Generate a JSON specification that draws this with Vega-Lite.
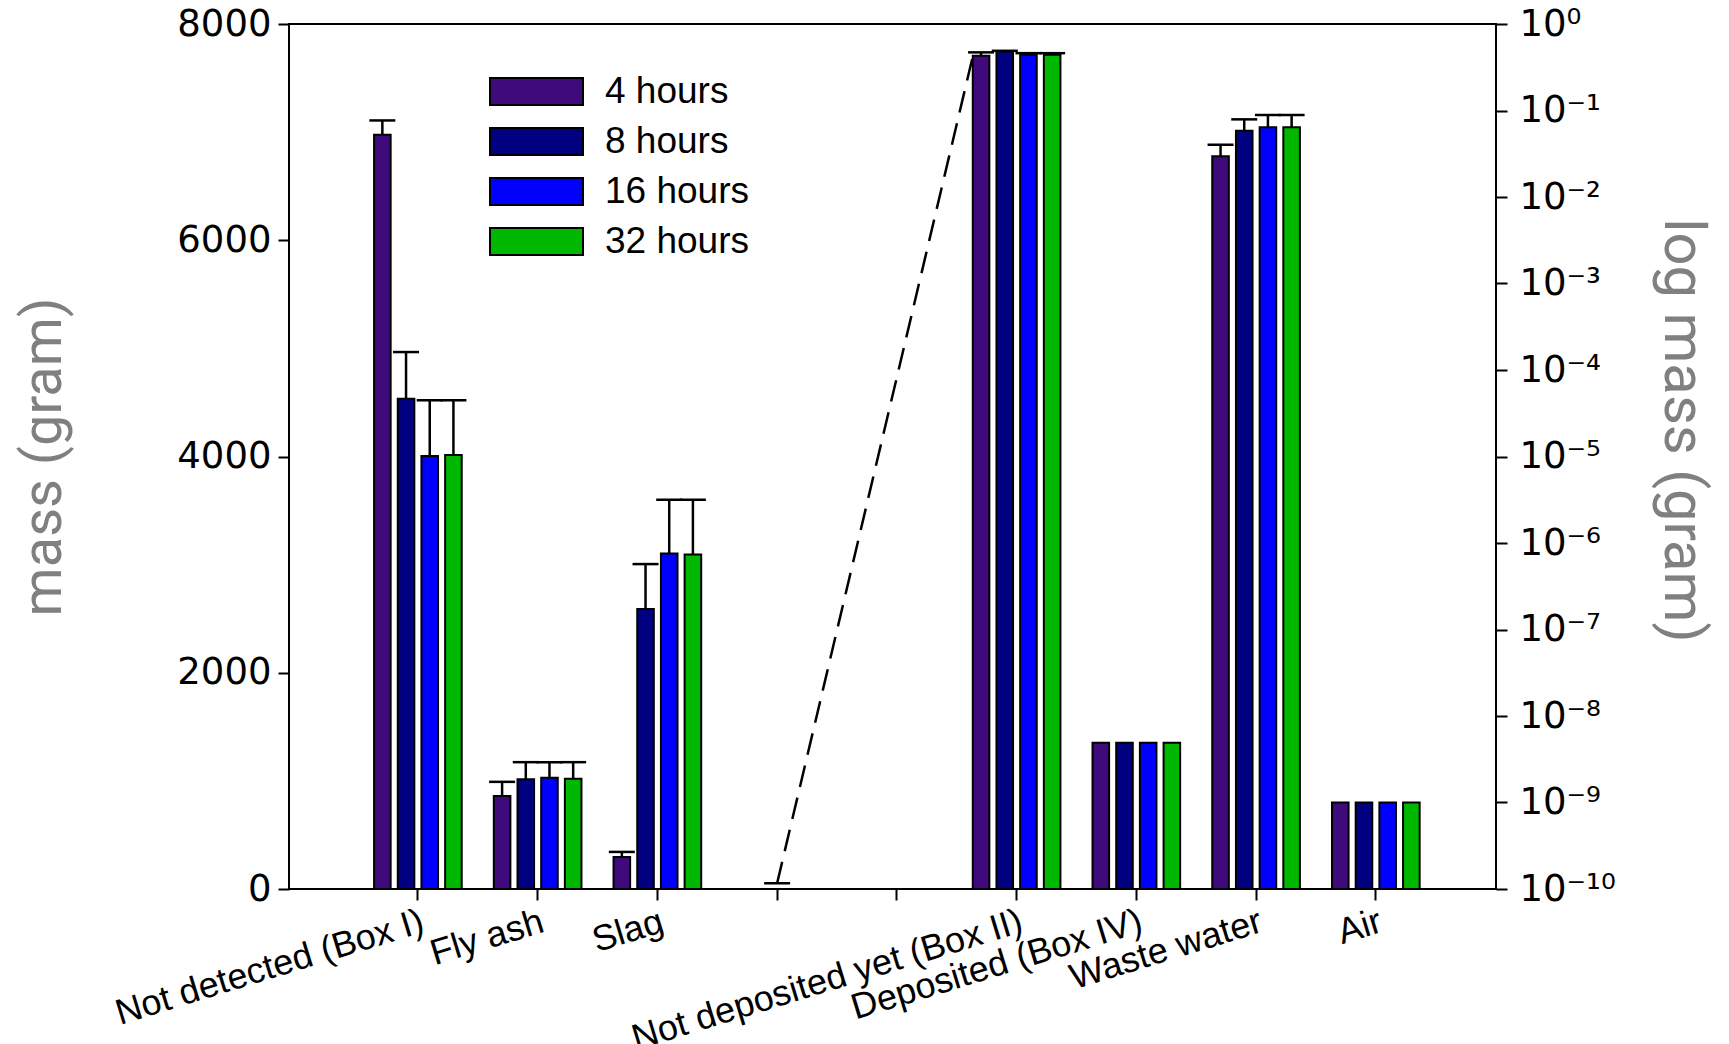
{
  "$schema": "https://vega.github.io/schema/vega-lite/v6.json",
  "width": 1207,
  "height": 865,
  "autosize": {"type": "none"},
  "padding": {"left": 289, "top": 24, "right": 233, "bottom": 155},
  "background": "white",
  "datasets": {
    "mass_linear": [
      {"category": "Not detected (Box I)", "time": "4 hours", "mass": 6975, "upper": 7108},
      {"category": "Not detected (Box I)", "time": "8 hours", "mass": 4533, "upper": 4966},
      {"category": "Not detected (Box I)", "time": "16 hours", "mass": 4005, "upper": 4520},
      {"category": "Not detected (Box I)", "time": "32 hours", "mass": 4015, "upper": 4520},
      {"category": "Fly ash", "time": "4 hours", "mass": 861, "upper": 991},
      {"category": "Fly ash", "time": "8 hours", "mass": 1015, "upper": 1173},
      {"category": "Fly ash", "time": "16 hours", "mass": 1029, "upper": 1173},
      {"category": "Fly ash", "time": "32 hours", "mass": 1020, "upper": 1173},
      {"category": "Slag", "time": "4 hours", "mass": 297, "upper": 343},
      {"category": "Slag", "time": "8 hours", "mass": 2589, "upper": 3005},
      {"category": "Slag", "time": "16 hours", "mass": 3104, "upper": 3600},
      {"category": "Slag", "time": "32 hours", "mass": 3094, "upper": 3600}
    ],
    "mass_log": [
      {"category": "Not deposited yet (Box II)", "time": "4 hours", "mass": 0.43, "upper": 0.47},
      {"category": "Not deposited yet (Box II)", "time": "8 hours", "mass": 0.48, "upper": 0.49},
      {"category": "Not deposited yet (Box II)", "time": "16 hours", "mass": 0.44, "upper": 0.46},
      {"category": "Not deposited yet (Box II)", "time": "32 hours", "mass": 0.44, "upper": 0.46},
      {"category": "Deposited (Box IV)", "time": "4 hours", "mass": 4.9e-9},
      {"category": "Deposited (Box IV)", "time": "8 hours", "mass": 4.9e-9},
      {"category": "Deposited (Box IV)", "time": "16 hours", "mass": 4.9e-9},
      {"category": "Deposited (Box IV)", "time": "32 hours", "mass": 4.9e-9},
      {"category": "Waste water", "time": "4 hours", "mass": 0.0295, "upper": 0.0402},
      {"category": "Waste water", "time": "8 hours", "mass": 0.0584, "upper": 0.079},
      {"category": "Waste water", "time": "16 hours", "mass": 0.0639, "upper": 0.0887},
      {"category": "Waste water", "time": "32 hours", "mass": 0.0639, "upper": 0.0887},
      {"category": "Air", "time": "4 hours", "mass": 1e-9},
      {"category": "Air", "time": "8 hours", "mass": 1e-9},
      {"category": "Air", "time": "16 hours", "mass": 1e-9},
      {"category": "Air", "time": "32 hours", "mass": 1e-9}
    ],
    "break_link": [
      {"category": "gap1", "mass": 53, "to_category": "Not deposited yet (Box II)", "to_mass": 7700}
    ]
  },
  "config": {
    "view": {"stroke": "black", "strokeWidth": 2},
    "axis": {
      "domain": false,
      "grid": false,
      "ticks": true,
      "tickColor": "black",
      "tickWidth": 2,
      "tickSize": 11,
      "labelColor": "black",
      "labelFont": "DejaVu Sans",
      "labelFontSize": 37,
      "titleFont": "Roboto",
      "titleFontSize": 58,
      "titleFontWeight": "normal",
      "titleColor": "#808080"
    }
  },
  "encoding": {
    "x": {
      "field": "category",
      "type": "nominal",
      "scale": {
        "domain": ["Not detected (Box I)", "Fly ash", "Slag", "gap1", "gap2", "Not deposited yet (Box II)", "Deposited (Box IV)", "Waste water", "Air"],
        "paddingInner": 0.268,
        "paddingOuter": 0.674,
        "align": 0.527
      },
      "axis": {
        "title": null,
        "labelExpr": "datum.value == 'gap1' || datum.value == 'gap2' ? '' : datum.value",
        "labelAngle": -17,
        "labelAlign": "right",
        "labelBaseline": "top",
        "labelFont": "Liberation Sans",
        "labelFontSize": 36,
        "labelPadding": 4,
        "labelOverlap": false,
        "labelBound": false,
        "labelLimit": 0
      }
    }
  },
  "layer": [
    {
      "layer": [
        {
          "data": {"name": "mass_linear"},
          "mark": {"type": "bar", "stroke": "black", "strokeWidth": 2},
          "encoding": {
            "xOffset": {"field": "time", "type": "nominal", "scale": {"domain": ["4 hours", "8 hours", "16 hours", "32 hours"], "paddingInner": 0.3, "paddingOuter": 0}},
            "y": {
              "field": "mass",
              "type": "quantitative",
              "scale": {"domain": [0, 8000], "nice": false},
              "axis": {"orient": "left", "values": [0, 2000, 4000, 6000, 8000], "format": "d", "title": "mass (gram)", "titleFontSize": 56, "labelPadding": 7, "titlePadding": 104}
            },
            "color": {
              "field": "time",
              "type": "nominal",
              "scale": {"domain": ["4 hours", "8 hours", "16 hours", "32 hours"], "range": ["#3f0a7c", "#000080", "#0000ff", "#00b800"]},
              "legend": {
                "title": null,
                "orient": "none",
                "legendX": 229,
                "legendY": 49,
                "symbolType": "M-3.444,-1L3.444,-1L3.444,1L-3.444,1Z",
                "symbolSize": 729,
                "symbolStrokeColor": "black",
                "symbolStrokeWidth": 2,
                "symbolOpacity": 1,
                "labelFont": "Liberation Sans",
                "labelFontSize": 37,
                "labelColor": "black",
                "labelOffset": 50,
                "labelLimit": 0,
                "rowPadding": 12
              }
            }
          }
        },
        {
          "data": {"name": "mass_linear"},
          "mark": {"type": "rule", "color": "black", "strokeWidth": 2.5},
          "encoding": {
            "xOffset": {"field": "time", "type": "nominal"},
            "y": {"field": "mass", "type": "quantitative"},
            "y2": {"field": "upper"}
          }
        },
        {
          "data": {"name": "mass_linear"},
          "mark": {"type": "tick", "color": "black", "thickness": 2.5, "size": 26, "opacity": 1},
          "encoding": {
            "xOffset": {"field": "time", "type": "nominal"},
            "y": {"field": "upper", "type": "quantitative"}
          }
        },
        {
          "data": {"name": "break_link"},
          "mark": {"type": "rule", "color": "black", "strokeWidth": 2.5, "strokeDash": [22, 11]},
          "encoding": {
            "x": {"field": "category", "type": "nominal", "bandPosition": 0.5},
            "x2": {"field": "to_category", "bandPosition": 0},
            "y": {"field": "mass", "type": "quantitative"},
            "y2": {"field": "to_mass"}
          }
        },
        {
          "data": {"name": "break_link"},
          "mark": {"type": "tick", "color": "black", "thickness": 2.5, "size": 26, "opacity": 1},
          "encoding": {
            "y": {"field": "mass", "type": "quantitative"}
          }
        }
      ]
    },
    {
      "layer": [
        {
          "data": {"name": "mass_log"},
          "mark": {"type": "bar", "stroke": "black", "strokeWidth": 2},
          "encoding": {
            "xOffset": {"field": "time", "type": "nominal"},
            "y": {
              "field": "mass",
              "type": "quantitative",
              "scale": {"type": "log", "domain": [1e-10, 1], "nice": false},
              "axis": {
                "orient": "right",
                "values": [1, 0.1, 0.01, 0.001, 0.0001, 0.00001, 0.000001, 1e-7, 1e-8, 1e-9, 1e-10],
                "labelExpr": "['10⁰','10⁻¹','10⁻²','10⁻³','10⁻⁴','10⁻⁵','10⁻⁶','10⁻⁷','10⁻⁸','10⁻⁹','10⁻¹⁰'][round(-log(datum.value)/LN10)]",
                "title": "log mass (gram)",
                "titleY": 406,
                "labelPadding": 12,
                "titlePadding": 37
              }
            },
            "y2": {"datum": 1e-10},
            "color": {"field": "time", "type": "nominal", "legend": null}
          }
        },
        {
          "data": {"name": "mass_log"},
          "transform": [{"filter": "isValid(datum.upper)"}],
          "mark": {"type": "rule", "color": "black", "strokeWidth": 2.5},
          "encoding": {
            "xOffset": {"field": "time", "type": "nominal"},
            "y": {"field": "mass", "type": "quantitative"},
            "y2": {"field": "upper"}
          }
        },
        {
          "data": {"name": "mass_log"},
          "transform": [{"filter": "isValid(datum.upper)"}],
          "mark": {"type": "tick", "color": "black", "thickness": 2.5, "size": 26, "opacity": 1},
          "encoding": {
            "xOffset": {"field": "time", "type": "nominal"},
            "y": {"field": "upper", "type": "quantitative"}
          }
        }
      ]
    }
  ],
  "resolve": {"scale": {"y": "independent"}}
}
